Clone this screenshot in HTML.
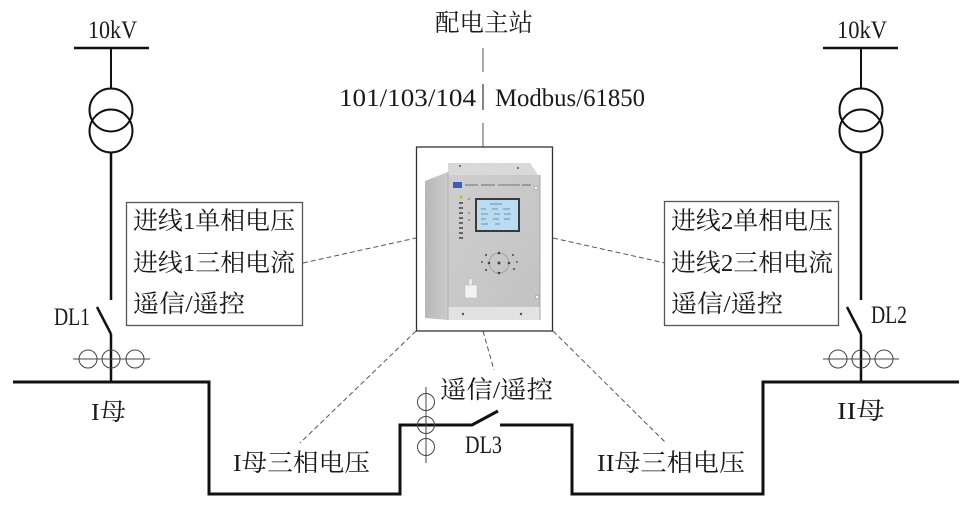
<!DOCTYPE html>
<html><head><meta charset="utf-8">
<style>
html,body{margin:0;padding:0;background:#fff;}
svg{display:block;}
text{font-family:"Liberation Serif","Noto Serif CJK SC","Noto Sans CJK SC",serif;font-size:24.5px;fill:#1a1a1a;}
</style></head>
<body>
<svg width="979" height="514" viewBox="0 0 979 514" xmlns="http://www.w3.org/2000/svg">
<defs>
<linearGradient id="side" x1="0" x2="1" y1="0" y2="0">
<stop offset="0" stop-color="#b8b8b8"/><stop offset="1" stop-color="#d0d0d0"/>
</linearGradient>
<linearGradient id="front" x1="0" x2="1" y1="0" y2="1">
<stop offset="0" stop-color="#d4d4d4"/><stop offset="1" stop-color="#c6c6c6"/>
</linearGradient>
<filter id="noise" x="0" y="0" width="100%" height="100%">
<feTurbulence type="fractalNoise" baseFrequency="0.9" numOctaves="2" result="n"/>
<feColorMatrix in="n" type="matrix" values="0 0 0 0 0.45  0 0 0 0 0.45  0 0 0 0 0.45  0 0 0 0.35 0" result="g"/>
<feComposite in="g" in2="SourceGraphic" operator="in" result="gn"/>
<feMerge><feMergeNode in="SourceGraphic"/><feMergeNode in="gn"/></feMerge>
</filter>
</defs>

<!-- Left feeder -->
<line x1="74" y1="48" x2="149" y2="48" stroke="#111" stroke-width="2.5"/>
<text x="88" y="38" textLength="49" lengthAdjust="spacingAndGlyphs" style="font-size:25.5px">10kV</text>
<line x1="111" y1="48" x2="111" y2="88" stroke="#111" stroke-width="2"/>
<circle cx="111" cy="110" r="21.5" fill="none" stroke="#111" stroke-width="2"/>
<circle cx="111" cy="131" r="21.5" fill="none" stroke="#111" stroke-width="2"/>
<line x1="111" y1="153" x2="111" y2="300" stroke="#111" stroke-width="2.5"/>
<line x1="97" y1="307" x2="111" y2="334" stroke="#111" stroke-width="2.5"/>
<line x1="111" y1="334" x2="111" y2="382" stroke="#111" stroke-width="2.5"/>
<line x1="73" y1="359" x2="150" y2="359" stroke="#444" stroke-width="1"/>
<circle cx="88" cy="359" r="9" fill="none" stroke="#444" stroke-width="1"/>
<circle cx="111" cy="359" r="9" fill="none" stroke="#444" stroke-width="1"/>
<circle cx="135" cy="359" r="9" fill="none" stroke="#444" stroke-width="1"/>
<text x="54" y="325" textLength="36" lengthAdjust="spacingAndGlyphs" style="font-size:25px">DL1</text>

<!-- Right feeder -->
<line x1="823" y1="48" x2="898" y2="48" stroke="#111" stroke-width="2.5"/>
<text x="837" y="38" textLength="50" lengthAdjust="spacingAndGlyphs" style="font-size:25.5px">10kV</text>
<line x1="861" y1="48" x2="861" y2="88" stroke="#111" stroke-width="2"/>
<circle cx="861" cy="110" r="21.5" fill="none" stroke="#111" stroke-width="2"/>
<circle cx="861" cy="131" r="21.5" fill="none" stroke="#111" stroke-width="2"/>
<line x1="861" y1="153" x2="861" y2="300" stroke="#111" stroke-width="2.5"/>
<line x1="847" y1="307" x2="861" y2="334" stroke="#111" stroke-width="2.5"/>
<line x1="861" y1="334" x2="861" y2="382" stroke="#111" stroke-width="2.5"/>
<line x1="823" y1="359" x2="899" y2="359" stroke="#444" stroke-width="1"/>
<circle cx="838" cy="359" r="9" fill="none" stroke="#444" stroke-width="1"/>
<circle cx="861" cy="359" r="9" fill="none" stroke="#444" stroke-width="1"/>
<circle cx="884" cy="359" r="9" fill="none" stroke="#444" stroke-width="1"/>
<text x="871" y="323" textLength="36" lengthAdjust="spacingAndGlyphs" style="font-size:25px">DL2</text>

<!-- Bus lines -->
<polyline points="13,382 209,382 209,494 400,494 400,425 472,425 498,411" fill="none" stroke="#111" stroke-width="3" stroke-linejoin="miter"/>
<polyline points="500,425 572,425 572,494 763,494 763,382 959,382" fill="none" stroke="#111" stroke-width="3" stroke-linejoin="miter"/>

<!-- DL3 CT -->
<line x1="426" y1="387" x2="426" y2="463" stroke="#444" stroke-width="1"/>
<circle cx="426" cy="402" r="8.5" fill="none" stroke="#444" stroke-width="1"/>
<circle cx="426" cy="425" r="8.5" fill="none" stroke="#444" stroke-width="1"/>
<circle cx="426" cy="447" r="8.5" fill="none" stroke="#444" stroke-width="1"/>

<!-- Labels -->
<text x="91" y="420" textLength="35" lengthAdjust="spacingAndGlyphs">I母</text>
<text x="837" y="419" textLength="48" lengthAdjust="spacingAndGlyphs">II母</text>
<text x="233" y="471" textLength="137" lengthAdjust="spacingAndGlyphs">I母三相电压</text>
<text x="597" y="471" textLength="148" lengthAdjust="spacingAndGlyphs">II母三相电压</text>
<text x="440" y="398" textLength="113" lengthAdjust="spacingAndGlyphs">遥信/遥控</text>
<text x="465" y="453" textLength="37" lengthAdjust="spacingAndGlyphs" style="font-size:25px">DL3</text>

<!-- Top center -->
<text x="435" y="31" textLength="98" lengthAdjust="spacingAndGlyphs">配电主站</text>
<line x1="483" y1="48" x2="483" y2="72" stroke="#555" stroke-width="1"/>
<text x="339" y="106" textLength="137" lengthAdjust="spacingAndGlyphs" style="font-size:25.5px">101/103/104</text>
<line x1="483" y1="84" x2="483" y2="110" stroke="#333" stroke-width="1.2"/>
<text x="495" y="106" textLength="150" lengthAdjust="spacingAndGlyphs" style="font-size:25.5px">Modbus/61850</text>
<line x1="483" y1="123" x2="483" y2="147" stroke="#555" stroke-width="1"/>

<!-- Text boxes -->
<rect x="126.5" y="202.5" width="176" height="123" fill="#fff" stroke="#555" stroke-width="1.3"/>
<text x="133" y="229" textLength="162" lengthAdjust="spacingAndGlyphs">进线1单相电压</text>
<text x="133" y="271" textLength="162" lengthAdjust="spacingAndGlyphs">进线1三相电流</text>
<text x="133" y="312" textLength="112" lengthAdjust="spacingAndGlyphs">遥信/遥控</text>

<rect x="664.5" y="201.5" width="174" height="124" fill="#fff" stroke="#555" stroke-width="1.3"/>
<text x="671" y="229" textLength="162" lengthAdjust="spacingAndGlyphs">进线2单相电压</text>
<text x="671" y="271" textLength="162" lengthAdjust="spacingAndGlyphs">进线2三相电流</text>
<text x="671" y="312" textLength="112" lengthAdjust="spacingAndGlyphs">遥信/遥控</text>

<!-- Dashed connectors -->
<g stroke="#555" stroke-width="1" stroke-dasharray="5,3" fill="none">
<line x1="303" y1="263" x2="416" y2="238"/>
<line x1="553" y1="238" x2="665" y2="263"/>
<line x1="416" y1="331" x2="300" y2="443"/>
<line x1="483" y1="331" x2="494" y2="370"/>
<line x1="553" y1="331" x2="666" y2="443"/>
</g>

<!-- Device box -->
<rect x="416.5" y="147" width="136" height="184" fill="#fff" stroke="#333" stroke-width="1.3"/>
<g filter="url(#noise)">
<polygon points="425,181 448,172 448,320 425,318" fill="url(#side)"/>
<polygon points="448,163 530,163 538,175 448,175" fill="#e0e0e0"/>
<rect x="448" y="175" width="92" height="132" fill="url(#front)"/>
<rect x="448" y="307" width="92" height="13" fill="#ebebeb"/>
</g>
<line x1="448" y1="172" x2="448" y2="320" stroke="#aaa" stroke-width="0.8"/>
<line x1="540" y1="175" x2="540" y2="320" stroke="#999" stroke-width="0.8"/>
<circle cx="536" cy="188" r="1.8" fill="#fff" stroke="#777" stroke-width="0.5"/>
<circle cx="537" cy="297" r="1.8" fill="#fff" stroke="#777" stroke-width="0.5"/>
<circle cx="460" cy="166" r="1" fill="#555"/>
<circle cx="518" cy="168" r="1" fill="#555"/>
<circle cx="463" cy="314" r="1.2" fill="#555"/>
<circle cx="521" cy="314" r="1.2" fill="#555"/>
<!-- logo & header text -->
<rect x="453" y="182" width="9" height="6" fill="#3b5fc0"/>
<g stroke="#555" stroke-width="0.8">
<line x1="465" y1="185" x2="478" y2="185"/>
<line x1="481" y1="185" x2="495" y2="185"/>
<line x1="498" y1="185" x2="520" y2="185"/>
<line x1="522" y1="185" x2="531" y2="185"/>
</g>
<!-- LEDs -->
<circle cx="461" cy="197" r="1.6" fill="#9ccc3a"/>
<g fill="#666">
<rect x="459" y="202" width="4" height="2"/>
<rect x="459" y="207" width="4" height="2"/>
<rect x="459" y="212" width="4" height="2"/>
<rect x="459" y="217" width="4" height="2"/>
<rect x="459" y="222" width="4" height="2"/>
<rect x="459" y="227" width="4" height="2"/>
<rect x="459" y="232" width="4" height="2"/>
<rect x="459" y="237" width="4" height="2"/>
<circle cx="469" cy="199" r="0.8"/><circle cx="469" cy="213" r="0.8"/><circle cx="469" cy="220" r="0.8"/>
</g>
<!-- LCD -->
<rect x="475" y="198" width="45" height="34" fill="#3a3a3a"/>
<rect x="477" y="200" width="41" height="30" fill="#b9dcf0"/>
<g stroke="#5a7a9a" stroke-width="0.8">
<line x1="490" y1="204" x2="502" y2="204"/>
<line x1="481" y1="209" x2="486" y2="209"/><line x1="492" y1="209" x2="498" y2="209"/><line x1="503" y1="209" x2="510" y2="209"/>
<line x1="481" y1="214" x2="488" y2="214"/><line x1="494" y1="214" x2="500" y2="214"/><line x1="504" y1="214" x2="511" y2="214"/>
<line x1="481" y1="219" x2="486" y2="219"/><line x1="493" y1="219" x2="499" y2="219"/><line x1="504" y1="219" x2="510" y2="219"/>
<line x1="481" y1="224" x2="488" y2="224"/><line x1="495" y1="224" x2="500" y2="224"/>
</g>
<!-- keypad -->
<circle cx="499" cy="263" r="10" fill="none" stroke="#999" stroke-width="0.8"/>
<g fill="#444">
<circle cx="499" cy="253" r="1.3"/><circle cx="499" cy="273" r="1.3"/>
<circle cx="489" cy="263" r="1.3"/><circle cx="509" cy="263" r="1.3"/>
<circle cx="499" cy="263" r="1.5"/>
<circle cx="486" cy="255" r="1"/><circle cx="486" cy="270" r="1"/>
<circle cx="513" cy="255" r="1"/><circle cx="514" cy="269" r="1"/>
<circle cx="482" cy="262" r="0.9"/><circle cx="517" cy="262" r="0.9"/>
</g>
<!-- small handle -->
<rect x="469" y="279" width="3" height="6" fill="#f2f2f2" stroke="#bbb" stroke-width="0.5"/>
<rect x="465" y="285" width="12" height="13" fill="#f2f2f2" stroke="#bbb" stroke-width="0.5"/>
</svg>
</body></html>
